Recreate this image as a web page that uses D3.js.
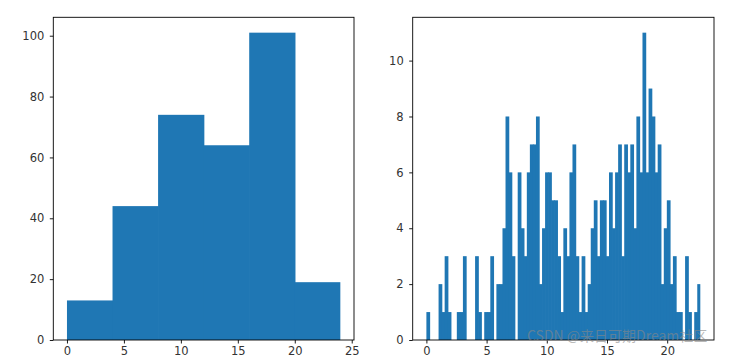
<!DOCTYPE html>
<html>
<head>
<meta charset="utf-8">
<script src="https://cdn.jsdelivr.net/npm/d3@7"></script>
<style>
  html, body { margin: 0; padding: 0; background: #fff; }
  svg { display: block; }
</style>
</head>
<body>
<div id="chart"></div>
<script>
// ---- data ----
const leftBinEdges = [0, 4, 8, 12, 16, 20, 24];
const leftCounts = [13, 44, 74, 64, 101, 19];
const leftXTicks = [0, 5, 10, 15, 20, 25];
const leftYTicks = [0, 20, 40, 60, 80, 100];

const rightRange = [0, 22.75];
const rightCounts = [
  1, 0, 0, 0, 2, 1, 3, 1, 0, 0,
  1, 1, 3, 0, 0, 0, 3, 1, 0, 1,
  1, 3, 0, 2, 2, 4, 8, 6, 3, 0,
  6, 4, 3, 6, 7, 7, 8, 2, 4, 6,
  6, 5, 5, 3, 1, 4, 3, 6, 7, 3,
  1, 3, 1, 2, 4, 5, 3, 5, 5, 3,
  6, 4, 6, 7, 3, 7, 6, 7, 4, 8,
  6, 11, 6, 9, 8, 6, 7, 2, 4, 5,
  2, 3, 1, 1, 0, 3, 1, 0, 1, 2
];
const rightXTicks = [0, 5, 10, 15, 20];
const rightYTicks = [0, 2, 4, 6, 8, 10];

const watermarkText = "CSDN @来日可期Dream社区";

// ---- layout ----
const W = 734, H = 360;
const plotTop = 17.3, plotBottom = 340;
const barColor = "#1f77b4";
const textColor = "#333333";
const fontFamily = "'DejaVu Sans', sans-serif";

const svg = d3.select("#chart").append("svg")
  .attr("width", W).attr("height", H)
  .attr("viewBox", `0 0 ${W} ${H}`);

function margin5(lo, hi) {
  const r = hi - lo;
  return [lo - 0.05 * r, hi + 0.05 * r];
}

function panel(left, right, bins, xTicks, yTicks) {
  const xmin = d3.min(bins, d => d.x0), xmax = d3.max(bins, d => d.x1);
  const ymax = d3.max(bins, d => d.count);
  const x = d3.scaleLinear().domain(margin5(xmin, xmax)).range([left, right]);
  const y = d3.scaleLinear().domain([0, ymax * 1.05]).range([plotBottom, plotTop]);

  const g = svg.append("g");
  g.selectAll("rect.bar").data(bins.filter(d => d.count > 0)).join("rect")
    .attr("class", "bar")
    .attr("x", d => x(d.x0))
    .attr("width", d => Math.max(0, x(d.x1) - x(d.x0)) + (d.x1 < xmax ? 0.7 : 0))
    .attr("y", d => y(d.count))
    .attr("height", d => y(0) - y(d.count))
    .attr("fill", barColor);

  const xAxis = g.append("g")
    .attr("transform", `translate(0,${plotBottom})`)
    .call(d3.axisBottom(x).tickValues(xTicks).tickSize(3.5).tickPadding(3).tickFormat(d3.format("d")));
  const yAxis = g.append("g")
    .attr("transform", `translate(${left},0)`)
    .call(d3.axisLeft(y).tickValues(yTicks).tickSize(3.5).tickPadding(5.5).tickFormat(d3.format("d")));

  [xAxis, yAxis].forEach(a => {
    a.select(".domain").remove();
    a.selectAll(".tick line").attr("stroke", "#000").attr("stroke-width", 0.9);
    a.selectAll(".tick text")
      .attr("fill", textColor)
      .style("font-family", fontFamily)
      .style("font-size", "11.5px");
  });

  g.append("rect")
    .attr("x", left).attr("y", plotTop)
    .attr("width", right - left).attr("height", plotBottom - plotTop)
    .attr("fill", "none").attr("stroke", "#000").attr("stroke-width", 0.9);
}

const leftBins = leftCounts.map((c, i) => ({ x0: leftBinEdges[i], x1: leftBinEdges[i + 1], count: c }));
const nR = rightCounts.length;
const wR = (rightRange[1] - rightRange[0]) / nR;
const rightBins = rightCounts.map((c, i) => ({
  x0: rightRange[0] + i * wR,
  x1: rightRange[0] + (i + 1) * wR,
  count: c
}));

panel(53.3, 354, leftBins, leftXTicks, leftYTicks);
panel(412.7, 714, rightBins, rightXTicks, rightYTicks);

// watermark
svg.append("text")
  .attr("x", 527).attr("y", 341)
  .attr("fill", "#888").attr("fill-opacity", 0.6)
  .style("font-family", "'Noto Sans CJK SC', 'DejaVu Sans', sans-serif")
  .style("font-size", "14px")
  .text(watermarkText);
</script>
</body>
</html>
